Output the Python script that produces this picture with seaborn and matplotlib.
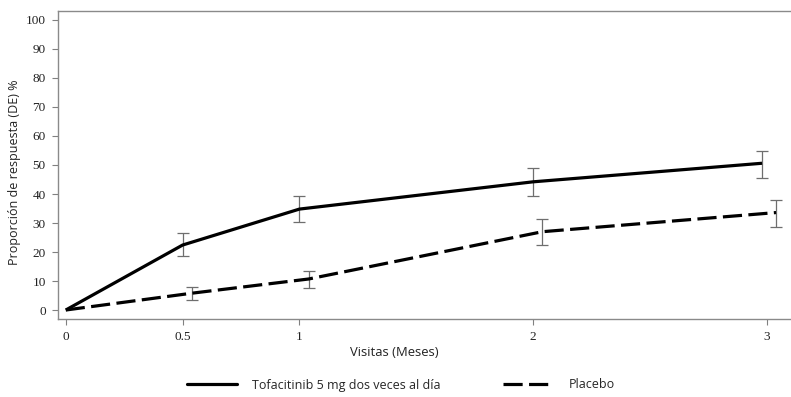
import numpy as np
import pandas as pd
import matplotlib
matplotlib.use("Agg")
import matplotlib.pyplot as plt
import seaborn as sns

sns.set_style("white")

# data
visitas = [0, 0.5, 1, 2, 3]
tofa = [0, 22.4, 34.8, 44.2, 50.6]
tofa_lo = [0, 18.6, 30.2, 39.3, 45.6]
tofa_hi = [0, 26.4, 39.3, 48.9, 54.9]
placebo = [0, 5.8, 10.7, 27.0, 33.6]
placebo_lo = [0, 3.4, 7.7, 22.5, 28.7]
placebo_hi = [0, 8.0, 13.4, 31.3, 37.9]
tick_labels = ["0", "0.5", "1", "2", "3"]
grupos = ["Tofacitinib 5 mg dos veces al día", "Placebo"]

# small horizontal dodge as in the original
dodge = {grupos[0]: [0, 0, 0, 0, -0.02], grupos[1]: [0, 0.04, 0.04, 0.04, 0.04]}

df = pd.concat([
    pd.DataFrame({"x": np.array(visitas) + np.array(dodge[grupos[0]]), "y": tofa,
                  "lo": tofa_lo, "hi": tofa_hi, "grupo": grupos[0]}),
    pd.DataFrame({"x": np.array(visitas) + np.array(dodge[grupos[1]]), "y": placebo,
                  "lo": placebo_lo, "hi": placebo_hi, "grupo": grupos[1]}),
])

fig = plt.figure(figsize=(7.91, 3.97), dpi=100)
ax = fig.add_axes([58.3 / 791, 1 - 319 / 397, 1 - 58.3 / 791, (319 - 11) / 397])

# error bars first so the lines sit on top
for g in grupos:
    d = df[(df.grupo == g) & (df.x > 0)]
    ax.errorbar(d.x, d.y, yerr=[d.y - d.lo, d.hi - d.y], fmt="none",
                ecolor="#6e6e6e", elinewidth=0.9, capsize=4.5, capthick=0.9, zorder=2)

sns.lineplot(data=df, x="x", y="y", hue="grupo", style="grupo",
             palette=["black", "black"], dashes=[(1, 0), (6, 2)],
             linewidth=2.3, legend=False, ax=ax, zorder=3)

ax.set_xlim(-0.032, 3.104)
ax.set_ylim(-3.1, 103.1)
ax.set_xticks(visitas)
ax.set_xticklabels(tick_labels)
ax.set_yticks(range(0, 101, 10))
ax.set_xlabel("")
ax.set_ylabel("")

for lab in ax.get_xticklabels() + ax.get_yticklabels():
    lab.set_fontfamily("Liberation Serif")
    lab.set_fontsize(9.5)
    lab.set_color("#222222")
ax.tick_params(axis="both", length=4, width=0.8, color="#808080", direction="out",
               bottom=True, left=True, pad=5)

for s in ["left", "bottom", "top"]:
    ax.spines[s].set_color("#8a8a8a")
    ax.spines[s].set_linewidth(1.0)
ax.spines["right"].set_visible(False)

fig.text(394 / 791, 1 - 352 / 397, "Visitas (Meses)", ha="center", va="center",
         fontsize=9.4, family="Open Sans", color="#222222")
fig.text(15 / 791, 1 - 172 / 397, "Proporción de respuesta (DE) %", rotation=90,
         ha="center", va="center", fontsize=9, family="Open Sans", color="#222222")

handles = [plt.Line2D([], [], color="black", lw=2.3),
           plt.Line2D([], [], color="black", lw=2.3, dashes=(6, 2))]
fig.legend(handles, grupos, loc="center", bbox_to_anchor=(401 / 791, 1 - 385 / 397),
           ncol=2, frameon=False, handlelength=4.0, handletextpad=1.2,
           columnspacing=5.0, prop={"family": "Open Sans", "size": 9})

fig.savefig("out.png", dpi=100)
